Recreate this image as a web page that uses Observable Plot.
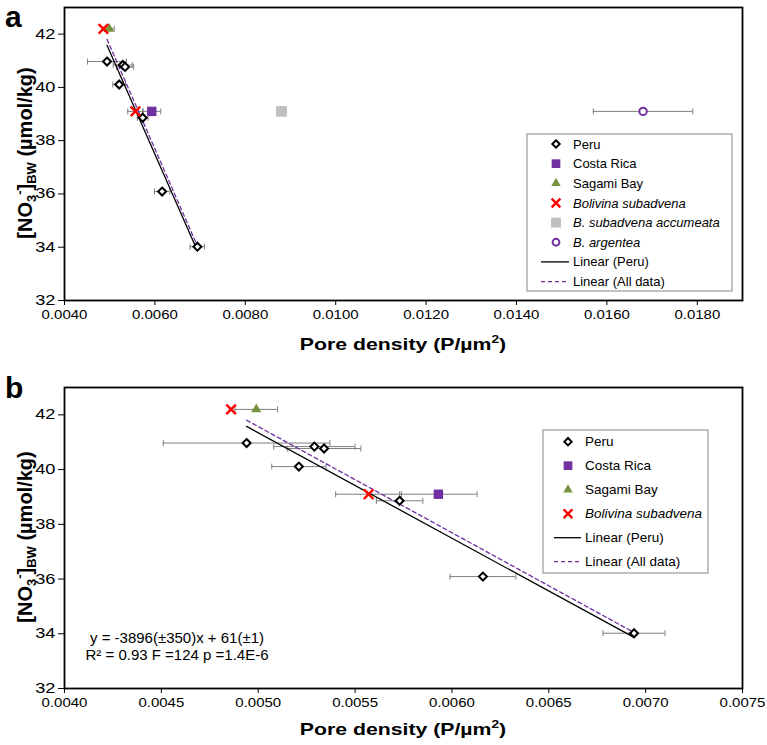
<!DOCTYPE html>
<html><head><meta charset="utf-8">
<script src="https://cdn.jsdelivr.net/npm/d3@7"></script>
<script src="https://cdn.jsdelivr.net/npm/@observablehq/plot@0.6"></script>
<style>
body{margin:0;background:#fff;}
#wrap{position:relative;width:767px;height:745px;overflow:hidden;background:#fff;}
#pa,#pb{position:absolute;left:0;}
#pa{top:0}
#pb{top:370px}
</style></head><body><div id="wrap"><div id="pa"></div><div id="pb"></div></div>
<script>
// ---- data (pore density P/µm², [NO3-]BW µmol/kg, ± error in pore density) ----
const peruX   = [0.00494, 0.00529, 0.00534, 0.00521, 0.00573, 0.00616, 0.00694];
const peruY   = [40.97, 40.84, 40.77, 40.11, 38.86, 36.09, 34.02];
const peruErr = [0.00043, 0.00021, 0.00019, 0.00014, 0.00012, 0.00017, 0.00016];

const costaRicaX = [0.00593];
const costaRicaY = [39.1];
const costaRicaErr = [0.00020];

const sagamiX = [0.00499];
const sagamiY = [42.2];
const sagamiErr = [0.00011];

const subadvenaX = [0.00486, 0.00557];
const subadvenaY = [42.2, 39.1];
const subadvenaErr = [0, 0.00017];
const subadvenaInTrend = [false, true];

const accumeataX = [0.0088];
const accumeataY = [39.1];
const accumeataErr = [0.0001];

const argenteaX = [0.0168];
const argenteaY = [39.1];
const argenteaErr = [0.0011];

const xTicksA = [0.004, 0.006, 0.008, 0.010, 0.012, 0.014, 0.016, 0.018];
const xTicksB = [0.0040, 0.0045, 0.0050, 0.0055, 0.0060, 0.0065, 0.0070, 0.0075];
const yTicks  = [32, 34, 36, 38, 40, 42];

const legendA = ["Peru", "Costa Rica", "Sagami Bay", "Bolivina subadvena", "B. subadvena accumeata", "B. argentea", "Linear (Peru)", "Linear (All data)"];
const legendB = ["Peru", "Costa Rica", "Sagami Bay", "Bolivina subadvena", "Linear (Peru)", "Linear (All data)"];
const equationLines = ["y = -3896(±350)x + 61(±1)", "R² = 0.93 F =124 p =1.4E-6"];

// ---- build rows ----
const rows = (xs, ys, es, s) => xs.map((x, i) => ({x, y: ys[i], e: es[i], s}));
const peru = rows(peruX, peruY, peruErr, "Peru");
const costa = rows(costaRicaX, costaRicaY, costaRicaErr, "Costa Rica");
const sagami = rows(sagamiX, sagamiY, sagamiErr, "Sagami Bay");
const subadvena = rows(subadvenaX, subadvenaY, subadvenaErr, "Bolivina subadvena");
const accumeata = rows(accumeataX, accumeataY, accumeataErr, "B. subadvena accumeata");
const argentea = rows(argenteaX, argenteaY, argenteaErr, "B. argentea");
const allData = [...peru, ...costa, ...sagami, ...subadvena.filter((d, i) => subadvenaInTrend[i])];

const PURPLE = "#7030A0", GREEN = "#77933C", RED = "#FF0000", GREY = "#BFBFBF", ERR = "#7F7F7F";
const FONT = "'Liberation Sans', Arial, sans-serif";

const capSymbol = {draw(ctx, size) { const h = Math.sqrt(size / Math.PI); ctx.moveTo(0, -h); ctx.lineTo(0, h); }};

const styles = {
  "Peru": {symbol: "diamond2", r: 3.6, stroke: "black", strokeWidth: 2, fill: "white"},
  "Costa Rica": {symbol: "square", r: 5.3, fill: PURPLE},
  "Sagami Bay": {symbol: "triangle", r: 3.8, fill: GREEN},
  "Bolivina subadvena": {symbol: "times", r: 4.4, stroke: RED, strokeWidth: 2.4},
  "B. subadvena accumeata": {symbol: "square", r: 6, fill: GREY},
  "B. argentea": {symbol: "circle", r: 3.7, stroke: PURPLE, strokeWidth: 2, fill: "white"}
};
const symbolMap = {diamond2: d3.symbolDiamond2, square: d3.symbolSquare, triangle: d3.symbolTriangle, times: d3.symbolTimes, circle: d3.symbolCircle};

function seriesMarks(groups) {
  const withErr = groups.flat().filter(d => d.e > 0);
  const marks = [
    Plot.ruleY(withErr, {x1: d => d.x - d.e, x2: d => d.x + d.e, y: "y", stroke: ERR, strokeWidth: 1}),
    Plot.dot(withErr, {x: d => d.x - d.e, y: "y", symbol: capSymbol, r: 3, fill: "none", stroke: ERR, strokeWidth: 1}),
    Plot.dot(withErr, {x: d => d.x + d.e, y: "y", symbol: capSymbol, r: 3, fill: "none", stroke: ERR, strokeWidth: 1}),
    Plot.linearRegressionY(peru, {x: "x", y: "y", stroke: "black", strokeWidth: 1.3, ci: 0}),
    Plot.linearRegressionY(allData, {x: "x", y: "y", stroke: PURPLE, strokeWidth: 1.3, strokeDasharray: "4,3", ci: 0})
  ];
  for (const g of groups) {
    const st = styles[g[0].s];
    marks.push(Plot.dot(g, {x: "x", y: "y", ...st}));
  }
  return marks;
}

function makePlot(opts) {
  return Plot.plot({
    width: 767, height: opts.height,
    marginLeft: 64, marginRight: 25, marginTop: opts.top, marginBottom: opts.bottom,
    style: {fontFamily: FONT, fontSize: "13px", background: "white", color: "black", overflow: "visible"},
    x: {domain: opts.xDomain},
    y: {domain: [32, 43]},
    marks: [
      ...seriesMarks(opts.groups),
      Plot.frame({stroke: "black", strokeWidth: 1.8}),
      Plot.axisX({ticks: opts.xTicks, tickFormat: d3.format(".4f"), tickSize: 5, tickPadding: 5, label: null, fontSize: 12.5}),
      Plot.axisY({ticks: yTicks, tickSize: 6, tickPadding: 3, label: null, fontSize: 14})
    ]
  });
}

function stretchText(svg, selector, s) {
  d3.select(svg).selectAll(selector).each(function() {
    const b = this.getBBox();
    const anchor = getComputedStyle(this).textAnchor;
    let cx = b.x + b.width / 2;
    if (anchor === "end") cx = b.x + b.width;
    if (anchor === "start") cx = b.x;
    const t = this.getAttribute("transform") || "";
    this.setAttribute("transform", `${t} translate(${cx},0) scale(${s},1) translate(${-cx},0)`);
  });
}

function addTitles(svg, label, labelY, xTitleY, yTitleCY) {
  const S = d3.select(svg);
  S.append("text").attr("x", 5).attr("y", labelY).attr("font-size", 30).attr("font-weight", "bold")
    .attr("text-anchor", "start").attr("font-family", FONT).attr("fill", "black").text(label);
  const xt = S.append("text").attr("transform", `translate(403,${xTitleY}) scale(1.25,1)`)
    .attr("text-anchor", "middle").attr("font-size", 17).attr("font-weight", "bold").attr("font-family", FONT).attr("fill", "black");
  xt.append("tspan").text("Pore density (P/µm");
  xt.append("tspan").attr("font-size", 11).attr("dy", -7).text("2");
  xt.append("tspan").attr("dy", 7).text(")");
  const yt = S.append("text").attr("transform", `translate(32,${yTitleCY}) rotate(-90)`)
    .attr("text-anchor", "middle").attr("font-size", 20).attr("font-weight", "bold").attr("font-family", FONT).attr("fill", "black");
  yt.append("tspan").text("[NO");
  yt.append("tspan").attr("font-size", 13).attr("dy", 4).text("3");
  yt.append("tspan").attr("font-size", 13).attr("dy", -12).text("-");
  yt.append("tspan").attr("dy", 8).text("]");
  yt.append("tspan").attr("font-size", 13).attr("dy", 4).text("BW");
  yt.append("tspan").attr("dy", -4).text(" (µmol/kg)");
}

function addLegend(svg, items, box, rowY0, step, symX, textX, lineX1, lineX2, fontSize) {
  const S = d3.select(svg);
  const g = S.append("g").attr("font-family", FONT).attr("font-size", fontSize).attr("text-anchor", "start");
  g.append("rect").attr("x", box[0]).attr("y", box[1]).attr("width", box[2] - box[0]).attr("height", box[3] - box[1])
    .attr("fill", "white").attr("stroke", "#868686").attr("stroke-width", 1);
  items.forEach((name, i) => {
    const y = rowY0 + i * step;
    const st = styles[name];
    if (st) {
      const p = d3.symbol().type(symbolMap[st.symbol]).size(Math.PI * st.r * st.r * 0.85)();
      g.append("path").attr("d", p).attr("transform", `translate(${symX},${y})`)
        .attr("fill", st.fill || "none").attr("stroke", st.stroke || "none").attr("stroke-width", st.strokeWidth || 0);
    } else {
      const dashed = name.includes("All");
      g.append("line").attr("x1", lineX1).attr("x2", lineX2).attr("y1", y).attr("y2", y)
        .attr("stroke", dashed ? PURPLE : "black").attr("stroke-width", 1.3).attr("stroke-dasharray", dashed ? "4,3" : null);
    }
    const italic = name.startsWith("B");
    g.append("text").attr("x", textX).attr("y", y).attr("dy", "0.35em").attr("fill", "black")
      .attr("font-style", italic ? "italic" : null).text(name);
  });
}

// ---- panel a ----
const svgA = makePlot({height: 370, top: 7, bottom: 70, xDomain: [0.004, 0.019], xTicks: xTicksA,
  groups: [peru, costa, sagami, subadvena, accumeata, argentea]});
document.getElementById("pa").appendChild(svgA);
stretchText(svgA, 'g[aria-label="x-axis tick label"] text', 1.2);
stretchText(svgA, 'g[aria-label="y-axis tick label"] text', 1.3);
addTitles(svgA, "a", 27, 350, 153);
addLegend(svgA, legendA, [527, 134, 732, 291], 144, 19.65, 556, 573, 541, 569, 13);

// ---- panel b ----
const svgB = makePlot({height: 375, top: 17, bottom: 57, xDomain: [0.004, 0.0075], xTicks: xTicksB,
  groups: [peru, costa, sagami, subadvena]});
document.getElementById("pb").appendChild(svgB);
stretchText(svgB, 'g[aria-label="x-axis tick label"] text', 1.2);
stretchText(svgB, 'g[aria-label="y-axis tick label"] text', 1.3);
addTitles(svgB, "b", 28, 365, 167);
addLegend(svgB, legendB, [543, 60, 708, 203], 71.7, 24, 568, 585, 554, 581, 13.5);
const eq = d3.select(svgB).append("g").attr("font-family", FONT).attr("font-size", 15).attr("fill", "black").attr("text-anchor", "middle");
equationLines.forEach((t, i) => eq.append("text").attr("x", 177).attr("y", 273 + i * 16.5).text(t));
</script></body></html>
